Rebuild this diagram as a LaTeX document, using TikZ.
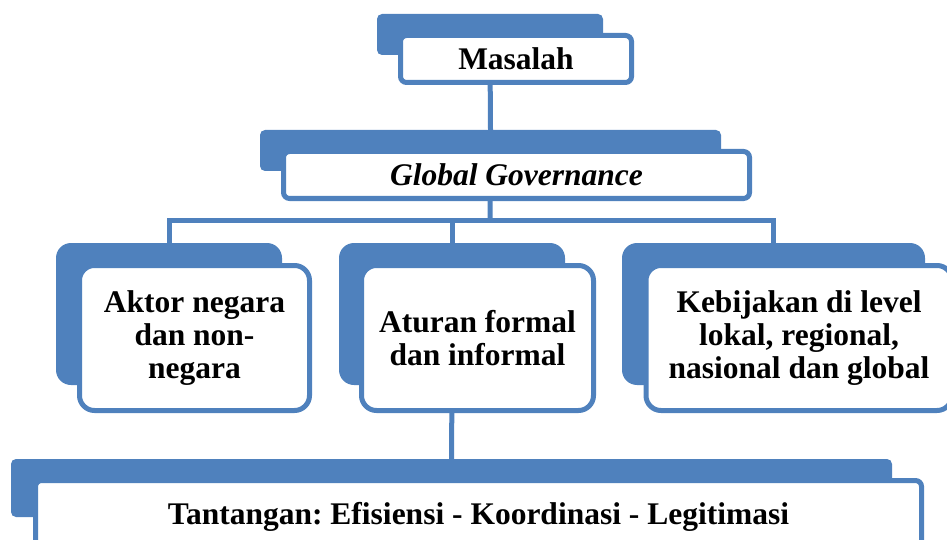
\documentclass[tikz,border=0pt]{standalone}
\usepackage{fontspec}
\setmainfont{Liberation Serif}
\frenchspacing
\definecolor{obl}{HTML}{4F81BD}
\tikzset{
  backbox/.style={fill=obl, draw=none, inner sep=0pt},
  frontbox/.style={fill=white, draw=obl, line width=5pt, inner sep=0pt, align=center,
     font=\fontsize{31.5}{33}\selectfont\bfseries},
  conn/.style={draw=obl, line width=5pt},
}
\begin{document}
\begin{tikzpicture}[x=1pt,y=-1pt]
\useasboundingbox (0,0) rectangle (947,540);
\clip (0,0) rectangle (947,540);
% back boxes
\node[backbox, rounded corners=5pt, minimum width=226pt, minimum height=41pt] (mback) at (490,34.5) {};
\node[backbox, rounded corners=5pt, minimum width=461pt, minimum height=41pt] (gback) at (490.5,150.5) {};
\node[backbox, rounded corners=15pt, minimum width=226pt, minimum height=142pt] (aback) at (169,314) {};
\node[backbox, rounded corners=15pt, minimum width=226pt, minimum height=142pt] (bback) at (452,314) {};
\node[backbox, rounded corners=15pt, minimum width=303pt, minimum height=142pt] (cback) at (773.5,314) {};
\node[backbox, rounded corners=5pt, minimum width=881pt, minimum height=58pt] (dback) at (451.5,488) {};
% connectors
\coordinate (bus) at (490,220);
\draw[conn] (mback.south) -- (gback.north);
\draw[conn] (gback.south) -- (bus);
\draw[conn] (aback.north) |- (bus) -| (cback.north);
\draw[conn] (bback.north) -- (bback.north |- bus);
\draw[conn] (bback.south) -- (dback.north);
% front boxes
\node[frontbox, rounded corners=6pt, minimum width=231pt, minimum height=47pt] (mfront) at (516,59) {Masalah};
\node[frontbox, rounded corners=6pt, minimum width=466pt, minimum height=47pt] (gfront) at (516.5,175) {\itshape Global Governance};
\node[frontbox, rounded corners=15pt, minimum width=230pt, minimum height=145pt] (afront) at (194.5,338) {Aktor negara\\dan non-\\negara};
\node[frontbox, rounded corners=15pt, minimum width=232pt, minimum height=145pt] (bfront) at (477.5,338) {Aturan formal\\dan informal};
\node[frontbox, rounded corners=15pt, minimum width=306pt, minimum height=145pt] (cfront) at (799,338) {Kebijakan di level\\lokal, regional,\\nasional dan global};
\node[frontbox, rounded corners=6pt, minimum width=886pt, minimum height=73pt] (dfront) at (478.5,517) {Tantangan: Efisiensi - Koordinasi - Legitimasi};
\end{tikzpicture}
\end{document}
